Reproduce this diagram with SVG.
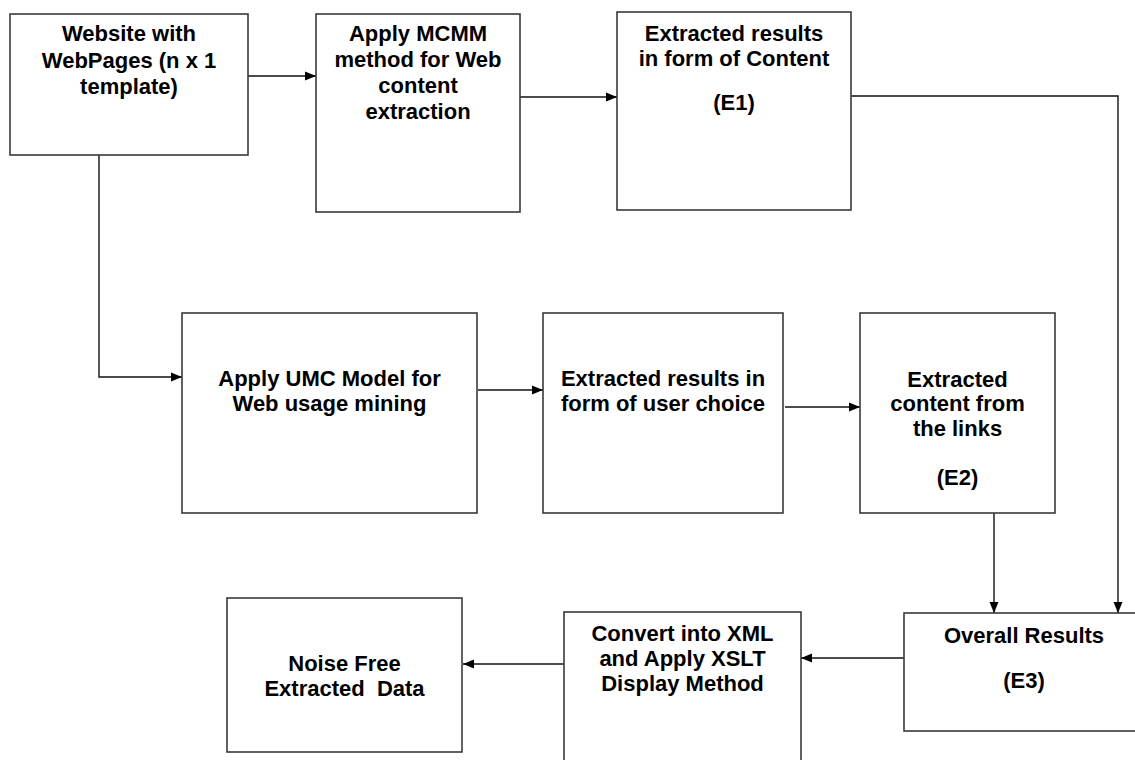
<svg xmlns="http://www.w3.org/2000/svg" width="1135" height="760" viewBox="0 0 1135 760">
<style>
.box{fill:#ffffff;stroke:#3a3a3a;stroke-width:1.6}
.lbl{font-family:"Liberation Sans",Arial,sans-serif;font-weight:bold;font-size:22px;fill:#000;text-anchor:middle}
.con{fill:none;stroke:#111;stroke-width:1.4;marker-end:url(#ah)}
</style>
<defs>
<marker id="ah" markerUnits="userSpaceOnUse" markerWidth="12" markerHeight="10" refX="11" refY="5" orient="auto">
<path d="M0,0.5 L11,5 L0,9.5 z" fill="#000"/>
</marker>
</defs>
<rect width="1135" height="760" fill="#ffffff"/>
<g id="connectors">
<path class="con" d="M248,76 H316"/>
<path class="con" d="M520,97 H617"/>
<path class="con" d="M851,96 H1118 V613"/>
<path class="con" d="M99,155 V377 H182"/>
<path class="con" d="M478,390 H543"/>
<path class="con" d="M785,407 H860"/>
<path class="con" d="M994,508 V613"/>
<path class="con" d="M904,658 H801"/>
<path class="con" d="M567,664 H463"/>
</g>
<g id="n1">
<rect class="box" x="10" y="14" width="238" height="141"/>
<text class="lbl"><tspan x="129" y="41">Website with</tspan><tspan x="129" y="68">WebPages (n x 1</tspan><tspan x="129" y="94">template)</tspan></text>
</g>
<g id="n2">
<rect class="box" x="316" y="14" width="204" height="198"/>
<text class="lbl"><tspan x="418" y="41">Apply MCMM</tspan><tspan x="418" y="67">method for Web</tspan><tspan x="418" y="93">content</tspan><tspan x="418" y="119">extraction</tspan></text>
</g>
<g id="n3">
<rect class="box" x="617" y="12" width="234" height="198"/>
<text class="lbl"><tspan x="734" y="41">Extracted results</tspan><tspan x="734" y="66">in form of Content</tspan><tspan x="734" y="110">(E1)</tspan></text>
</g>
<g id="n4">
<rect class="box" x="182" y="313" width="295" height="200"/>
<text class="lbl"><tspan x="329.5" y="386">Apply UMC Model for</tspan><tspan x="329.5" y="411">Web usage mining</tspan></text>
</g>
<g id="n5">
<rect class="box" x="543" y="313" width="240" height="200"/>
<text class="lbl"><tspan x="663" y="386">Extracted results in</tspan><tspan x="663" y="411">form of user choice</tspan></text>
</g>
<g id="n6">
<rect class="box" x="860" y="313" width="195" height="200"/>
<text class="lbl"><tspan x="957.5" y="387">Extracted</tspan><tspan x="957.5" y="411">content from</tspan><tspan x="957.5" y="436">the links</tspan><tspan x="957.5" y="485">(E2)</tspan></text>
</g>
<g id="n7">
<rect class="box" x="904" y="613" width="245" height="118"/>
<text class="lbl"><tspan x="1024" y="643">Overall Results</tspan><tspan x="1024" y="688">(E3)</tspan></text>
</g>
<g id="n8">
<rect class="box" x="564" y="612" width="237" height="160"/>
<text class="lbl"><tspan x="682.5" y="641">Convert into XML</tspan><tspan x="682.5" y="666">and Apply XSLT</tspan><tspan x="682.5" y="691">Display Method</tspan></text>
</g>
<g id="n9">
<rect class="box" x="227" y="598" width="235" height="154"/>
<text class="lbl" xml:space="preserve"><tspan x="344.5" y="671">Noise Free</tspan><tspan x="344.5" y="696">Extracted  Data</tspan></text>
</g>
</svg>
